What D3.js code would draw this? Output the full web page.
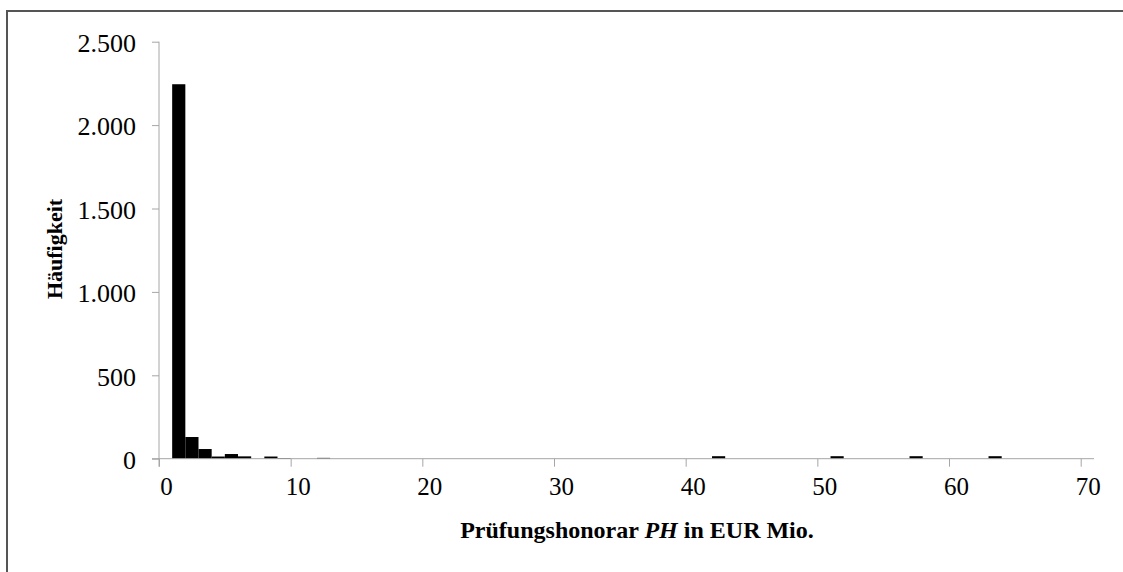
<!DOCTYPE html>
<html>
<head>
<meta charset="utf-8">
<script src="https://cdn.jsdelivr.net/npm/d3@7"></script>
<style>
  body { margin: 0; background: #fff; }
  text { font-family: "Liberation Serif", "Times New Roman", serif; fill: #000; }
</style>
</head>
<body>
<div id="root"></div>
<script>
// bins are 1 EUR Mio. wide, keyed by their lower edge
const binStarts = [1, 2, 3, 4, 5, 6, 8, 9, 12, 42, 51, 57, 63];
const binCounts = [2245, 130, 58, 13, 28, 14, 13, 4, 5, 15, 15, 15, 15];
const xTicks = [0, 10, 20, 30, 40, 50, 60, 70];
const yTicks = [0, 500, 1000, 1500, 2000, 2500];

const width = 1123;
const height = 572;
const axisColor = "#a6a6a6";

const de = d3.formatLocale({ decimal: ",", thousands: ".", grouping: [3], currency: ["", " €"] });
const fmt = de.format(",d");

const svg = d3.select("#root")
	.append("svg")
		.attr("width", width)
		.attr("height", height);

// outer frame (runs off the right and bottom edge)
svg.append("rect")
	.attr("x", 7)
	.attr("y", 11)
	.attr("width", width + 20)
	.attr("height", height + 20)
	.style("fill", "none")
	.style("stroke", "#555")
	.style("stroke-width", 2);

const x = d3.scaleLinear().domain([0, 70]).range([159, 1080.7]);
const y = d3.scaleLinear().domain([0, 2500]).range([458.7, 41.7]);

// bars
const bins = binStarts.map((s, i) => ({ x0: s, x1: s + 1, n: binCounts[i] }));
svg.selectAll(".bar")
	.data(bins).enter()
	.append("rect")
		.attr("class", "bar")
		.attr("x", d => x(d.x0))
		.attr("width", d => x(d.x1) - x(d.x0))
		.attr("y", d => y(d.n))
		.attr("height", d => y(0) - y(d.n))
		.style("fill", "#000");

// y axis
const yAxis = svg.append("g")
	.attr("transform", `translate(${x(0)},0)`)
	.call(d3.axisLeft(y).tickValues(yTicks).tickSize(7).tickPadding(16).tickFormat(fmt));
yAxis.select(".domain").remove();
yAxis.append("line")
	.attr("x1", 0).attr("x2", 0)
	.attr("y1", y(2500)).attr("y2", y(0) + 8)
	.style("stroke", axisColor);
yAxis.selectAll(".tick line").style("stroke", axisColor);
yAxis.selectAll(".tick text")
	.attr("dy", "0.38em")
	.style("font-size", "26px")
	.style("font-family", "Liberation Serif");

// x axis
const xAxis = svg.append("g")
	.attr("transform", `translate(0,${y(0)})`)
	.call(d3.axisBottom(x).tickValues(xTicks).tickSize(8).tickPadding(11).tickFormat(d3.format("d")));
xAxis.select(".domain").remove();
xAxis.append("line")
	.attr("x1", x(0) - 7).attr("x2", 1094)
	.attr("y1", 0).attr("y2", 0)
	.style("stroke", axisColor);
xAxis.selectAll(".tick line").style("stroke", axisColor);
xAxis.selectAll(".tick text")
	.attr("dx", 7)
	.style("font-size", "25px")
	.style("font-family", "Liberation Serif");

// axis titles
const xTitle = svg.append("text")
	.attr("x", 637)
	.attr("y", 538)
	.style("text-anchor", "middle")
	.style("font-size", "24px")
	.style("font-weight", "bold");
xTitle.append("tspan").text("Prüfungshonorar ");
xTitle.append("tspan").style("font-style", "italic").text("PH");
xTitle.append("tspan").text(" in EUR Mio.");

svg.append("text")
	.attr("transform", "translate(62,249) rotate(-90)")
	.style("text-anchor", "middle")
	.style("font-size", "22px")
	.style("font-weight", "bold")
	.text("Häufigkeit");
</script>
</body>
</html>
